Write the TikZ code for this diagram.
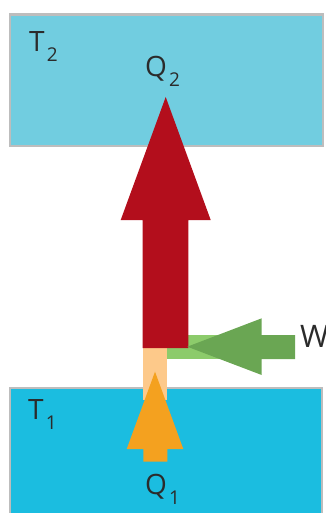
\documentclass[tikz,border=0pt]{standalone}
\usepackage{fontspec}
\setmainfont{Open Sans}
\usetikzlibrary{calc}
\definecolor{hotres}{HTML}{71CDE0}
\definecolor{coldres}{HTML}{1BBDE0}
\definecolor{resframe}{HTML}{BDBDBD}
\definecolor{heatred}{HTML}{B30E1C}
\definecolor{heatpeach}{HTML}{FDC98A}
\definecolor{heatorange}{HTML}{F4A11F}
\definecolor{worklight}{HTML}{8CCB6B}
\definecolor{workdark}{HTML}{6AA653}
\definecolor{labelink}{HTML}{2B2B2B}
\newcommand\lowidx[1]{\kern0.08em\raisebox{-10pt}{\fontsize{19}{19}\selectfont #1}}

\begin{document}
\begin{tikzpicture}[
    x=1pt, y=-1pt,
    line join=miter,
    lbl/.style={text=labelink, font=\fontsize{28}{28}\selectfont, inner sep=0pt, anchor=base west}
]
    \useasboundingbox (0,0) rectangle (325,513);

    % Reservoirs
    \filldraw[fill=hotres, draw=resframe, line width=2.5pt] (10,14.5) rectangle (323,146);
    \filldraw[fill=coldres, draw=resframe, line width=2.5pt] (10,388) rectangle (322,530);

    % Pale bands behind the arrows
    \fill[heatpeach] (142.7,348) rectangle (167.3,400);
    \fill[worklight] (166.7,335) rectangle (262,359);

    % Q2 arrow (up)
    \coordinate (redtip) at (165.7,97);
    \fill[heatred] (142.7,348) -- (142.7,220) -- (120.7,220) -- (redtip)
        -- (210.7,220) -- (188.3,220) -- (188.3,348) -- cycle;

    % W arrow (left)
    \coordinate (greentip) at (187.3,346.7);
    \fill[workdark] (295,335) -- (261.7,335) -- (261.7,318.3) -- (greentip)
        -- (261.7,375) -- (261.7,359) -- (295,359) -- cycle;

    % Q1 arrow (up)
    \coordinate (orangetip) at (155,371.7);
    \fill[heatorange] (143.3,461.7) -- (143.3,449) -- (126.7,449) -- (orangetip)
        -- (183.3,449) -- (167.3,449) -- (167.3,461.7) -- cycle;

    % Labels
    \node[lbl] (t2label) at (29,52) {T\lowidx{2}};
    \node[lbl] (q2label) at (145,77) {Q\lowidx{2}};
    \node[lbl] (t1label) at (28,419) {T\lowidx{1}};
    \node[lbl] (q1label) at (145,494) {Q\lowidx{1}};
    \node[lbl, font=\fontsize{31}{31}\selectfont] (wlabel) at (300,347.5) {W};

\end{tikzpicture}
\end{document}
